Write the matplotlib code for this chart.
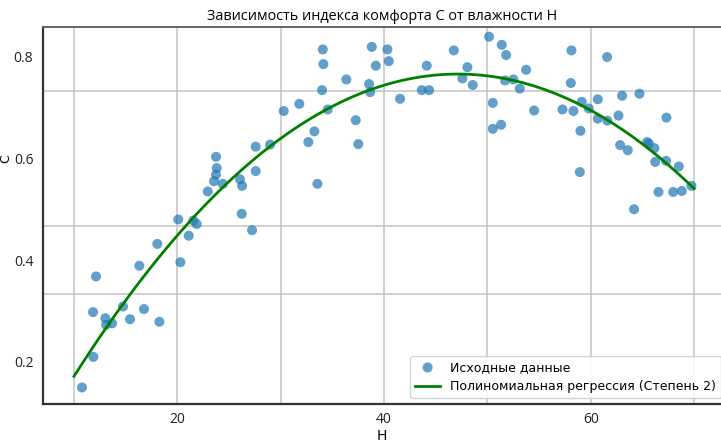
import numpy as np
import matplotlib
matplotlib.use("Agg")
import matplotlib.pyplot as plt
from matplotlib.ticker import FixedLocator

# влажность H и индекс комфорта C
H = [10.77, 11.87, 11.84, 12.13, 13.03, 13.10, 13.68, 14.74, 15.42, 16.32,
     16.77, 18.06, 18.26, 20.09, 20.29, 21.10, 21.55, 21.87, 26.23, 27.23,
     22.94, 23.55, 23.74, 23.81, 23.74, 24.39, 26.06, 26.26, 27.58, 27.58,
     28.97, 30.29, 31.80, 32.67, 33.26, 33.55, 34.00, 34.55, 34.13, 34.07,
     36.35, 37.26, 37.51, 38.55, 38.65, 38.81, 39.20, 40.32, 40.46, 41.55,
     43.65, 44.36, 44.13, 46.75, 47.58, 48.06, 48.58, 50.16, 50.52, 50.52,
     51.32, 51.39, 51.81, 51.71, 52.51, 53.13, 53.74, 54.52, 58.13, 58.07,
     57.26, 58.32, 59.13, 59.00, 58.94, 59.81, 60.68, 60.68, 61.58, 61.61,
     62.68, 63.03, 62.84, 63.58, 64.19, 64.71, 65.62, 65.45, 66.16, 66.23,
     66.55, 67.32, 67.29, 67.97, 68.52, 68.81, 69.74]
C = [0.150, 0.210, 0.298, 0.368, 0.286, 0.273, 0.276, 0.309, 0.284, 0.389,
     0.304, 0.432, 0.279, 0.480, 0.396, 0.448, 0.478, 0.471, 0.491, 0.459,
     0.535, 0.555, 0.568, 0.581, 0.603, 0.550, 0.559, 0.546, 0.575, 0.623,
     0.627, 0.693, 0.707, 0.632, 0.653, 0.550, 0.734, 0.696, 0.785, 0.814,
     0.755, 0.675, 0.628, 0.746, 0.730, 0.819, 0.782, 0.814, 0.791, 0.717,
     0.734, 0.734, 0.782, 0.812, 0.757, 0.779, 0.744, 0.839, 0.709, 0.658,
     0.666, 0.823, 0.803, 0.753, 0.755, 0.737, 0.774, 0.694, 0.812, 0.748,
     0.696, 0.693, 0.711, 0.654, 0.573, 0.698, 0.716, 0.678, 0.799, 0.674,
     0.684, 0.723, 0.626, 0.616, 0.500, 0.727, 0.629, 0.632, 0.620, 0.593,
     0.534, 0.680, 0.595, 0.534, 0.584, 0.536, 0.546]

H_FIT_MIN, H_FIT_MAX = 10, 70
DEGREE = 2

x_ticks = [20, 40, 60]
x_grid = [10, 30, 50, 70]
y_ticks = [0.2, 0.4, 0.6, 0.8]
y_grid = [0.2, 0.333, 0.467, 0.6, 0.733]

# полиномиальная регрессия
coef = np.polyfit(H, C, DEGREE)
h_line = np.linspace(H_FIT_MIN, H_FIT_MAX, 200)
c_line = np.polyval(coef, h_line)

fig = plt.figure(figsize=(7.21, 4.45), dpi=100)
ax = fig.add_axes([43 / 721, 41 / 445, 678 / 721, 377 / 445])

ax.scatter(H, C, s=52, color='#1f77b4', alpha=0.7, edgecolors='none',
           label='Исходные данные', zorder=3)
ax.plot(h_line, c_line, color='green', lw=2,
        label='Полиномиальная регрессия (Степень 2)', zorder=4)

ax.set_xlim(7.0, 72.6)
ax.set_ylim(0.1175, 0.858)

ax.set_xticks(x_ticks)
ax.xaxis.set_minor_locator(FixedLocator(x_grid))
ax.set_yticks(y_ticks)
ax.yaxis.set_minor_locator(FixedLocator(y_grid))
ax.tick_params(which='both', length=0)
ax.tick_params(axis='y', pad=7)
ax.tick_params(axis='x', pad=6)
for lab in ax.get_xticklabels() + ax.get_yticklabels():
    lab.set_family(['Open Sans', 'DejaVu Sans'])
    lab.set_fontsize(10)
    lab.set_color('#222222')

ax.grid(True, axis='x', which='both', color='#c4c4c4', lw=1.1)
ax.grid(True, axis='y', which='minor', color='#c4c4c4', lw=1.1)
ax.grid(False, axis='y', which='major')
ax.set_axisbelow(True)

for side in ['left', 'bottom']:
    ax.spines[side].set_linewidth(1.6)
    ax.spines[side].set_color('#333333')
ax.spines['top'].set_linewidth(1.4)
ax.spines['top'].set_color('#666666')
ax.spines['right'].set_visible(False)

ax.set_title('Зависимость индекса комфорта C от влажности H',
             family=['Open Sans', 'DejaVu Sans'], fontsize=10.4, pad=5)
ax.set_xlabel('H', fontsize=10, labelpad=1)
ax.set_ylabel('C', fontsize=9)
ax.yaxis.set_label_coords(-0.046, 0.65)

ax.legend(loc='lower right', bbox_to_anchor=(1.0, 6 / 377), borderaxespad=0,
          fontsize=9, frameon=True, edgecolor='#cccccc', framealpha=0.85,
          fancybox=True, shadow=False)

plt.savefig('out.png', dpi=100)
